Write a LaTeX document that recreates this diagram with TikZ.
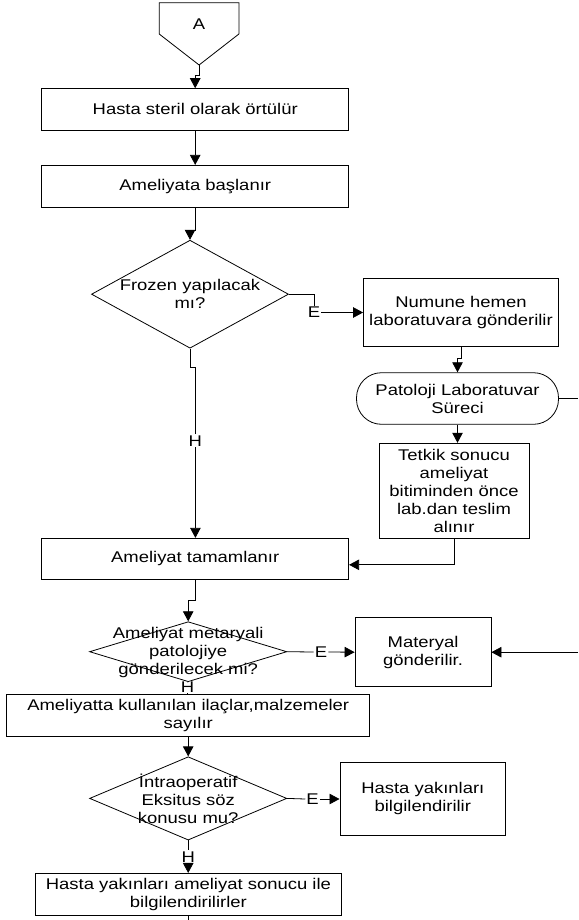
\documentclass[tikz,border=0pt]{standalone}
\usepackage{fontspec}
\setmainfont[FakeStretch=1.19]{Liberation Sans}
\usetikzlibrary{shapes.geometric,arrows.meta}
\begin{document}
\begin{tikzpicture}[x=1pt,y=-1pt,
  every node/.style={font=\fontsize{15.5}{18}\selectfont},
  lw/.style={line width=0.8pt},
  box/.style={draw,lw,inner sep=0pt,align=center,anchor=center},
  dia/.style={draw,lw,diamond,inner sep=0pt},
  term/.style={draw,lw,rectangle,rounded corners=25pt,inner sep=0pt,align=center},
  txt/.style={inner sep=0pt,align=center},
  lab/.style={inner sep=1pt},
  arr/.style={lw,-{Triangle[length=10pt,width=10.5pt]}},
  con/.style={lw}]
\useasboundingbox (0,0) rectangle (578,920);
% off-page connector A
\draw[lw] (159.2,2.7) -- (238.9,2.7) -- (238.9,34) -- (199.1,65) -- (159.2,34) -- cycle;
\node[txt] (A) at (199.1,24) {A};
\coordinate (Apt) at (199.1,65);
% boxes
\node[box,minimum width=307pt,minimum height=41.3pt] (b1) at (195.2,109.3) {Hasta steril olarak örtülür};
\node[box,minimum width=307pt,minimum height=42pt] (b2) at (195.2,186.3) {Ameliyata başlanır};
\node[dia,minimum width=197pt,minimum height=108pt] (d1) at (190,294.2) {};
\node[txt] (d1t) at (190,294) {Frozen yapılacak\\mı?};
\node[box,minimum width=195pt,minimum height=68.4pt] (num) at (461,312.5) {Numune hemen\\laboratuvara gönderilir};
\node[term,minimum width=202pt,minimum height=51.6pt] (term) at (457.5,398.5) {Patoloji Laboratuvar\\Süreci};
\node[box,minimum width=150pt,minimum height=95pt] (tet) at (454,490.7) {Tetkik sonucu\\ameliyat\\bitiminden önce\\lab.dan teslim\\alınır};
\node[box,minimum width=307pt,minimum height=41pt] (am) at (195.2,558.8) {Ameliyat tamamlanır};
\node[dia,minimum width=197.3pt,minimum height=60pt] (d2) at (188.2,651.7) {};
\node[txt] (d2t) at (188.2,652.5) {Ameliyat metaryali\\patolojiye\\gönderilecek mi?};
\node[box,minimum width=136pt,minimum height=69pt] (mat) at (423,652.2) {Materyal\\gönderilir.};
\node[box,minimum width=363pt,minimum height=42pt] (b3) at (188.2,715) {Ameliyatta kullanılan ilaçlar,malzemeler\\sayılır};
\node[dia,minimum width=197.2pt,minimum height=83.3pt] (d3) at (188.2,798.4) {};
\node[txt] (d3t) at (188.2,799) {İntraoperatif\\Eksitus söz\\konusu mu?};
\node[box,minimum width=165.8pt,minimum height=72.7pt] (hy) at (422.8,798.7) {Hasta yakınları\\bilgilendirilir};
\node[box,minimum width=306.7pt,minimum height=41.7pt] (last) at (188.4,894.2) {Hasta yakınları ameliyat sonucu ile\\bilgilendirilirler};
% labels
\node[lab] (E1) at (314.1,312.5) {E};
\node[lab] (H1) at (195.4,440.7) {H};
\node[lab] (E2) at (321,652) {E};
\node[lab,inner sep=0pt] (H2) at (187.5,687.5) {H};
\node[lab] (E3) at (312.6,799) {E};
\node[lab] (H3) at (188.2,856.7) {H};
% free ends
\coordinate (offR1) at (578,398.5);
\coordinate (offR2) at (578,652.2);
\coordinate (offB) at (188.4,920);
% connectors
\draw[arr] (Apt) -- ++(0,10) -| (b1.north);
\draw[arr] (b1.south) -- (b2.north);
\draw[arr] (b2.south) -- ++(0,22.7) -| (d1.north);
\draw[con] (d1.east) -| (E1.north);
\draw[arr] (E1.east) -- (E1.east -| num.west);
\draw[arr] (num.south) -- ++(0,11.6) -| (term.north);
\draw[arr] (term.south) -- (term.south |- tet.north);
\draw[con] (term.east) -- (offR1);
\draw[con] (d1.south) -- ++(0,18.4) -| (H1.north);
\draw[arr] (H1.south) -- (H1.south |- am.north);
\draw[arr] (tet.south) |- ([yshift=-6pt]am.east);
\draw[arr] (am.south) -- ++(0,20.7) -| (d2.north);
\draw[con] (d2.east) -- (E2.west);
\draw[arr] (E2.east) -- (mat.west);
\draw[arr] (offR2) -- (mat.east);
\draw[con] (d2.south) -- (H2.north);
\draw[con] (H2.south) -- (H2.south |- b3.north);
\draw[arr] (b3.south) -- (d3.north);
\draw[con] (d3.east) -- (E3.west);
\draw[arr] (E3.east) -- (E3.east -| hy.west);
\draw[con] (d3.south) -- (H3.north);
\draw[arr] (H3.south) -- (H3.south |- last.north);
\draw[con] (last.south) -- (offB);
\end{tikzpicture}
\end{document}
